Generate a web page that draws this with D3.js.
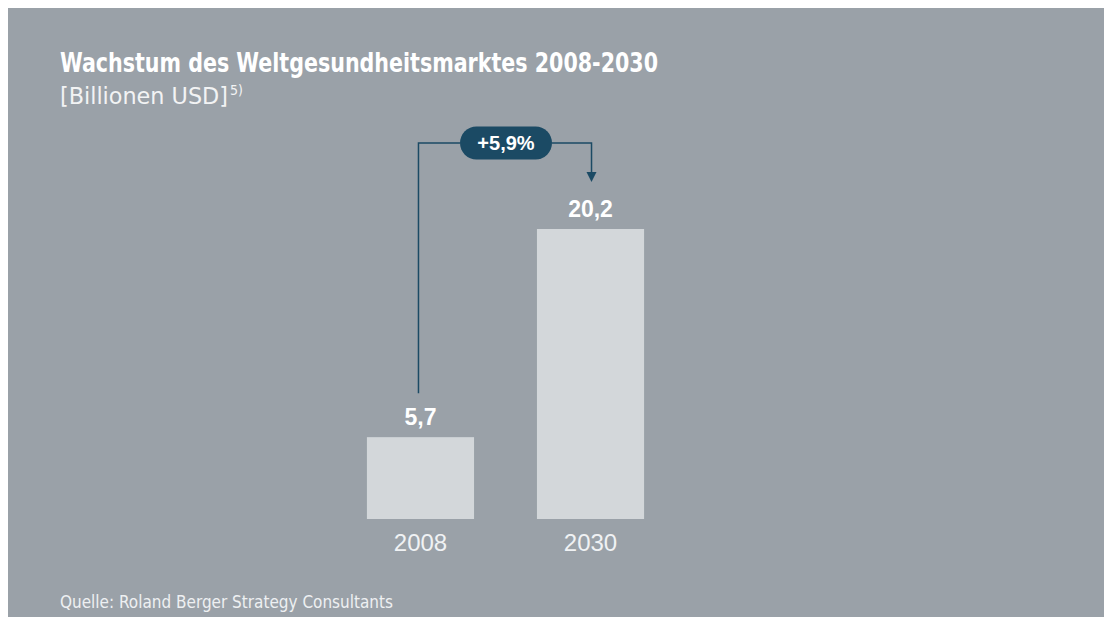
<!DOCTYPE html>
<html>
<head>
<meta charset="utf-8"/>
<title>Wachstum des Weltgesundheitsmarktes</title>
<script src="https://d3js.org/d3.v7.min.js"></script>
<style>
  body { margin: 0; background: #fff; }
  text { font-family: "Liberation Sans", Arial, sans-serif; }
  .narrow { font-family: "Liberation Sans Narrow", "DejaVu Sans Condensed", Arial, sans-serif; }
</style>
</head>
<body>
<svg width="1104" height="622"></svg>
<script>
// data
var years = ["2008", "2030"];
var values = [5.7, 20.2];
var valueLabels = ["5,7", "20,2"];
var growthLabel = "+5,9%";

var svg = d3.select("svg");

// grey panel
svg.append("rect")
  .attr("x", 8).attr("y", 8)
  .attr("width", 1096).attr("height", 609)
  .attr("fill", "#9aa1a8");

// titles
svg.append("text").attr("class", "narrow")
  .attr("x", 60).attr("y", 72)
  .attr("font-size", 27).attr("font-weight", "bold")
  .attr("fill", "#fff")
  .attr("textLength", 598).attr("lengthAdjust", "spacingAndGlyphs")
  .text("Wachstum des Weltgesundheitsmarktes 2008-2030");

var sub = svg.append("text").attr("class", "narrow")
  .attr("x", 60).attr("y", 104)
  .attr("font-size", 23)
  .attr("fill", "#f2f3f4");
sub.append("tspan").attr("textLength", 168).attr("lengthAdjust", "spacingAndGlyphs").text("[Billionen USD]");
sub.append("tspan").attr("font-size", 14).attr("dy", -9).attr("dx", 2).text("5)");

svg.append("text").attr("class", "narrow")
  .attr("x", 60).attr("y", 608)
  .attr("font-size", 18)
  .attr("fill", "#eef0f2")
  .attr("textLength", 333).attr("lengthAdjust", "spacingAndGlyphs")
  .text("Quelle: Roland Berger Strategy Consultants");

// scales
var x = d3.scaleBand().domain(years).range([304, 707]).paddingInner(0.37).paddingOuter(0.37);
var y = d3.scaleLinear().domain([0, 20.2]).range([519, 229]);

var data = years.map(function(d, i) { return {year: d, value: values[i], label: valueLabels[i]}; });

// bars
svg.selectAll("rect.bar")
  .data(data)
  .enter().append("rect")
    .attr("class", "bar")
    .attr("x", function(d) { return x(d.year); })
    .attr("y", function(d) { return y(d.value); })
    .attr("width", x.bandwidth())
    .attr("height", function(d) { return y(0) - y(d.value); })
    .attr("fill", "#d3d7da");

// value labels
svg.selectAll("text.val")
  .data(data)
  .enter().append("text")
    .attr("class", "val")
    .attr("x", function(d) { return x(d.year) + x.bandwidth() / 2; })
    .attr("y", function(d) { return y(d.value) - 12; })
    .attr("text-anchor", "middle")
    .attr("font-size", 23).attr("font-weight", "bold")
    .attr("fill", "#fff")
    .text(function(d) { return d.label; });

// year labels
svg.selectAll("text.year")
  .data(data)
  .enter().append("text")
    .attr("class", "year")
    .attr("x", function(d) { return x(d.year) + x.bandwidth() / 2; })
    .attr("y", 551)
    .attr("text-anchor", "middle")
    .attr("font-size", 24)
    .attr("fill", "#f0f2f4")
    .text(function(d) { return d.year; });

// growth connector
var navy = "#1b4a64";
var x0 = x(years[0]) + x.bandwidth() / 2 - 2;
var x1 = x(years[1]) + x.bandwidth() / 2 + 1;
var lineY = 143;
var pillX = 460, pillW = 92, pillH = 33;

svg.append("path")
  .attr("d", "M" + x0 + "," + (y(values[0]) - 44) + "V" + lineY + "H" + pillX)
  .attr("fill", "none").attr("stroke", navy).attr("stroke-width", 1.5);
svg.append("path")
  .attr("d", "M" + (pillX + pillW) + "," + lineY + "H" + x1 + "V" + 174)
  .attr("fill", "none").attr("stroke", navy).attr("stroke-width", 1.5);
svg.append("path")
  .attr("d", "M" + (x1 - 5) + ",172L" + (x1 + 5) + ",172L" + x1 + ",182Z")
  .attr("fill", navy);

svg.append("rect")
  .attr("x", pillX).attr("y", lineY - pillH / 2)
  .attr("width", pillW).attr("height", pillH)
  .attr("rx", pillH / 2)
  .attr("fill", navy);
svg.append("text")
  .attr("x", pillX + pillW / 2).attr("y", lineY + 7)
  .attr("text-anchor", "middle")
  .attr("font-size", 20).attr("font-weight", "bold")
  .attr("fill", "#fff")
  .text(growthLabel);
</script>
</body>
</html>
